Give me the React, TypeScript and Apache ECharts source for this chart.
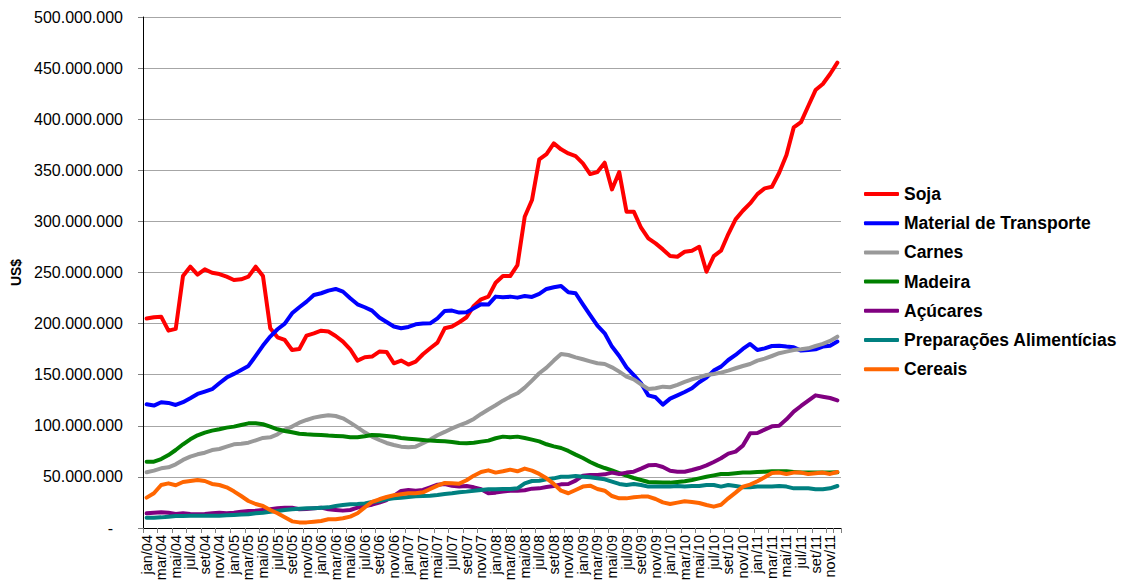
import React, { useEffect, useRef } from "react";
import * as echarts from "echarts";

const MONTHS = ["jan", "fev", "mar", "abr", "mai", "jun", "jul", "ago", "set", "out", "nov", "dez"];
const YEARS = ["04", "05", "06", "07", "08", "09", "10", "11"];
const categories = YEARS.flatMap((y) => MONTHS.map((m) => `${m}/${y}`));

// values in millions of US$
const soja = [
  204.9, 206.2, 206.8, 193.1, 194.8, 246.6, 255.7, 247.9, 253.1, 249.8, 248.5, 245.9,
  242.7, 243.3, 245.9, 255.7, 246.6, 195.4, 186.6, 184.0, 174.2, 175.2, 188.3, 190.5,
  193.1, 192.2, 187.9, 182.4, 174.9, 163.8, 167.1, 167.7, 172.6, 172.3, 161.2, 163.8,
  159.9, 162.8, 170.0, 175.9, 181.4, 195.4, 197.1, 201.3, 206.2, 217.3, 223.8, 226.4,
  240.0, 246.5, 246.5, 257.3, 304.6, 320.9, 360.7, 365.9, 376.3, 370.5, 366.5, 363.9,
  356.8, 346.3, 348.3, 357.4, 331.3, 348.3, 309.5, 309.5, 293.8, 283.4, 278.5, 272.6,
  266.1, 265.4, 270.3, 271.3, 275.2, 250.7, 266.1, 271.3, 287.6, 302.0, 310.4, 317.6,
  326.7, 332.3, 333.9, 347.6, 364.9, 392.0, 397.2, 412.9, 428.5, 434.4, 444.2, 455.3,
];
const materialTransporte = [
  121.1, 119.8, 123.1, 122.4, 120.4, 123.1, 127.0, 131.2, 133.5, 135.8, 141.6, 147.2,
  150.8, 154.7, 158.6, 168.4, 178.5, 187.3, 194.5, 200.0, 210.1, 216.0, 221.5, 228.0,
  229.7, 232.3, 233.9, 231.3, 224.8, 218.9, 216.0, 212.7, 205.9, 201.6, 197.1, 195.4,
  196.7, 199.3, 200.0, 200.3, 205.2, 212.4, 212.7, 210.8, 211.1, 215.0, 218.9, 218.6,
  226.4, 225.7, 226.4, 225.4, 227.0, 226.1, 229.0, 233.9, 235.5, 236.8, 230.6, 229.7,
  218.9, 208.4, 198.0, 190.5, 177.5, 168.3, 157.2, 149.7, 141.6, 129.8, 127.9, 120.7,
  126.6, 129.8, 133.1, 136.7, 142.6, 147.1, 154.0, 157.9, 164.4, 169.3, 175.2, 180.1,
  174.2, 175.8, 178.1, 178.4, 177.5, 176.8, 173.6, 174.2, 174.9, 177.5, 178.4, 182.4,
];
const carnes = [
  54.5, 56.1, 58.4, 59.4, 62.3, 66.6, 69.8, 72.1, 73.7, 76.3, 77.3, 79.6,
  81.9, 82.5, 83.5, 85.8, 88.1, 88.7, 91.7, 96.2, 99.2, 103.1, 105.7, 108.0,
  109.3, 110.3, 109.6, 107.3, 103.1, 98.5, 93.6, 89.4, 86.1, 83.2, 81.2, 79.6,
  79.0, 79.6, 82.9, 86.5, 90.7, 94.0, 97.5, 100.5, 103.1, 106.7, 111.6, 116.0,
  120.1, 124.6, 128.5, 131.8, 137.3, 144.2, 151.4, 156.9, 163.8, 170.3, 169.3, 167.0,
  165.1, 163.1, 161.2, 160.5, 157.2, 153.0, 148.1, 145.5, 140.6, 136.0, 136.7, 138.3,
  137.7, 140.0, 142.9, 145.5, 147.4, 149.7, 150.7, 152.0, 154.0, 156.3, 158.5, 160.5,
  163.8, 165.7, 168.3, 171.0, 172.6, 174.2, 174.9, 175.8, 178.1, 180.1, 183.0, 187.2,
];
const madeira = [
  64.9, 64.9, 67.5, 71.4, 76.3, 81.9, 86.8, 90.7, 93.3, 95.3, 96.6, 98.2,
  99.2, 100.8, 102.4, 102.4, 101.5, 99.2, 96.6, 94.9, 93.6, 92.3, 91.7, 91.3,
  91.0, 90.4, 90.0, 89.7, 88.7, 88.7, 89.7, 91.0, 90.7, 90.0, 89.4, 88.1,
  87.4, 86.8, 86.1, 85.5, 85.2, 84.8, 84.2, 83.2, 82.9, 83.5, 84.5, 85.5,
  87.8, 89.4, 88.7, 89.4, 88.1, 86.5, 84.8, 81.9, 79.9, 78.3, 75.4, 71.8,
  68.5, 64.6, 61.3, 58.7, 56.4, 53.8, 51.2, 48.9, 47.0, 45.0, 44.7, 44.4,
  44.4, 45.0, 45.7, 47.0, 48.6, 50.2, 51.5, 52.9, 52.9, 53.5, 54.2, 54.2,
  54.8, 55.1, 55.5, 55.5, 55.5, 54.8, 54.2, 54.2, 54.2, 54.2, 54.2, 54.5,
];
const acucares = [
  14.4, 15.0, 15.4, 15.0, 13.7, 14.4, 13.7, 13.4, 13.7, 14.4, 15.0, 14.4,
  15.0, 16.0, 16.6, 17.0, 17.6, 18.3, 19.3, 19.9, 19.9, 18.3, 18.6, 19.3,
  19.9, 18.3, 17.6, 17.0, 17.6, 19.9, 21.5, 22.8, 24.8, 27.4, 31.3, 36.2,
  37.2, 36.5, 37.2, 39.8, 42.4, 43.1, 41.4, 40.5, 41.1, 39.8, 37.9, 33.9,
  34.6, 35.6, 36.5, 36.5, 36.9, 38.5, 38.8, 40.1, 41.1, 42.7, 43.1, 46.3,
  51.2, 51.9, 51.9, 52.5, 54.2, 52.9, 54.2, 55.1, 58.1, 61.3, 61.7, 59.7,
  56.1, 55.1, 55.1, 56.8, 58.7, 61.3, 64.6, 68.2, 72.8, 74.7, 80.6, 92.6,
  93.0, 96.2, 99.5, 100.1, 106.3, 113.9, 119.4, 124.6, 129.8, 128.5, 127.2, 124.9,
];
const preparacoes = [
  10.1, 10.1, 10.4, 11.1, 11.7, 11.7, 12.1, 12.1, 12.1, 12.1, 12.1, 12.4,
  12.7, 13.1, 13.4, 14.4, 15.0, 16.0, 16.6, 17.6, 18.3, 18.9, 19.3, 19.3,
  19.9, 20.2, 21.5, 22.5, 23.2, 23.5, 24.1, 25.4, 26.4, 28.1, 29.0, 29.7,
  30.3, 31.0, 31.3, 31.6, 32.3, 33.3, 33.9, 34.9, 35.6, 36.5, 37.2, 37.9,
  37.9, 38.2, 38.2, 38.8, 43.7, 46.0, 46.3, 47.6, 48.6, 50.2, 50.2, 50.9,
  50.2, 49.6, 48.6, 47.6, 45.3, 43.1, 42.1, 43.1, 42.1, 40.5, 40.5, 40.5,
  40.5, 41.1, 40.5, 41.1, 41.1, 42.1, 42.1, 40.5, 42.1, 41.1, 39.8, 39.8,
  40.5, 40.5, 40.5, 41.1, 40.5, 38.8, 38.8, 38.8, 37.9, 37.9, 38.8, 41.1,
];
const cereais = [
  29.7, 34.0, 42.1, 43.7, 41.8, 45.0, 46.0, 47.0, 46.0, 43.1, 42.1, 39.8,
  35.9, 31.3, 26.4, 23.5, 21.5, 17.6, 14.4, 10.5, 6.5, 5.5, 5.5, 6.2,
  6.9, 8.5, 8.5, 9.5, 11.1, 14.4, 20.2, 25.5, 28.1, 30.3, 32.0, 33.0,
  34.0, 34.0, 34.9, 38.2, 41.4, 44.1, 43.7, 43.4, 46.7, 51.2, 54.8, 56.4,
  54.2, 55.5, 57.1, 55.5, 58.1, 56.1, 52.9, 48.6, 43.1, 36.5, 34.0, 37.2,
  40.5, 41.4, 38.2, 36.5, 31.3, 29.0, 29.0, 30.0, 30.7, 30.7, 28.4, 25.1,
  23.5, 24.8, 26.1, 25.5, 24.5, 22.5, 20.9, 22.8, 29.0, 34.6, 40.5, 42.4,
  45.7, 49.6, 53.8, 54.2, 52.9, 54.2, 54.2, 52.9, 53.5, 54.2, 52.9, 54.8,
];

const seriesNames = [
  "Soja",
  "Material de Transporte",
  "Carnes",
  "Madeira",
  "Açúcares",
  "Preparações Alimentícias",
  "Cereais",
];
const seriesData = [soja, materialTransporte, carnes, madeira, acucares, preparacoes, cereais];
const seriesColors = ["#FF0000", "#0000FF", "#999999", "#008000", "#800080", "#008080", "#FF6600"];

const yMin = 0;
const yMax = 500000000;
const yStep = 50000000;

function formatThousands(v: number): string {
  if (v === 0) return "{z|-}";
  return String(Math.round(v)).replace(/\B(?=(\d{3})+(?!\d))/g, ".");
}

export default function App() {
  const ref = useRef<HTMLDivElement>(null);

  useEffect(() => {
    document.body.style.margin = "0";
    if (!ref.current) return;
    const chart = echarts.init(ref.current, undefined, { renderer: "svg" });
    const font = "'Liberation Sans', Arial, sans-serif";
    chart.setOption({
      animation: false,
      backgroundColor: "#ffffff",
      textStyle: { fontFamily: font },
      grid: {
        left: 143,
        right: 282,
        top: 17,
        bottom: 56,
        containLabel: false,
        outerBoundsMode: "none",
      },
      legend: {
        orient: "vertical",
        left: 864,
        top: 185,
        padding: 0,
        icon: "roundRect",
        itemWidth: 35,
        itemHeight: 4,
        itemGap: 11.2,
        data: seriesNames,
        textStyle: {
          fontSize: 17.5,
          lineHeight: 18,
          fontWeight: "bold",
          color: "#000",
          fontFamily: font,
        },
      },
      xAxis: {
        type: "category",
        data: categories,
        boundaryGap: true,
        axisLine: { show: true, lineStyle: { color: "#000", width: 1 } },
        axisTick: { show: true, interval: 1, length: 5, lineStyle: { color: "#808080" } },
        axisLabel: {
          interval: 0,
          rotate: 90,
          fontSize: 14.5,
          lineHeight: 10,
          color: "#000",
          margin: 7,
          hideOverlap: false,
          showMinLabel: true,
          showMaxLabel: true,
          fontFamily: font,
          formatter: (value: string, index: number) => (index % 2 === 0 ? value : ""),
        },
        splitLine: { show: false },
      },
      yAxis: {
        type: "value",
        min: yMin,
        max: yMax,
        interval: yStep,
        name: "US$",
        nameLocation: "middle",
        nameGap: 117,
        nameRotate: 90,
        nameTextStyle: { fontSize: 14, fontWeight: "bold", color: "#000", fontFamily: font },
        axisLine: { show: true, lineStyle: { color: "#000", width: 1 } },
        axisTick: { show: true, length: 5, lineStyle: { color: "#808080" } },
        axisLabel: {
          fontSize: 16,
          color: "#000",
          margin: 20,
          fontFamily: font,
          formatter: formatThousands,
          rich: { z: { fontSize: 16, color: "#000", padding: [0, 10, 0, 0], fontFamily: font } },
        },
        splitLine: { show: true, lineStyle: { color: "#a6a6a6", width: 1 } },
      },
      series: seriesNames.map((name, i) => ({
        name,
        type: "line",
        data: seriesData[i].map((v) => v * 1000000),
        symbol: "none",
        smooth: false,
        color: seriesColors[i],
        lineStyle: { color: seriesColors[i], width: 4, cap: "round", join: "round" },
      })),
    });
    return () => chart.dispose();
  }, []);

  return <div ref={ref} style={{ width: 1123, height: 584 }} />;
}
